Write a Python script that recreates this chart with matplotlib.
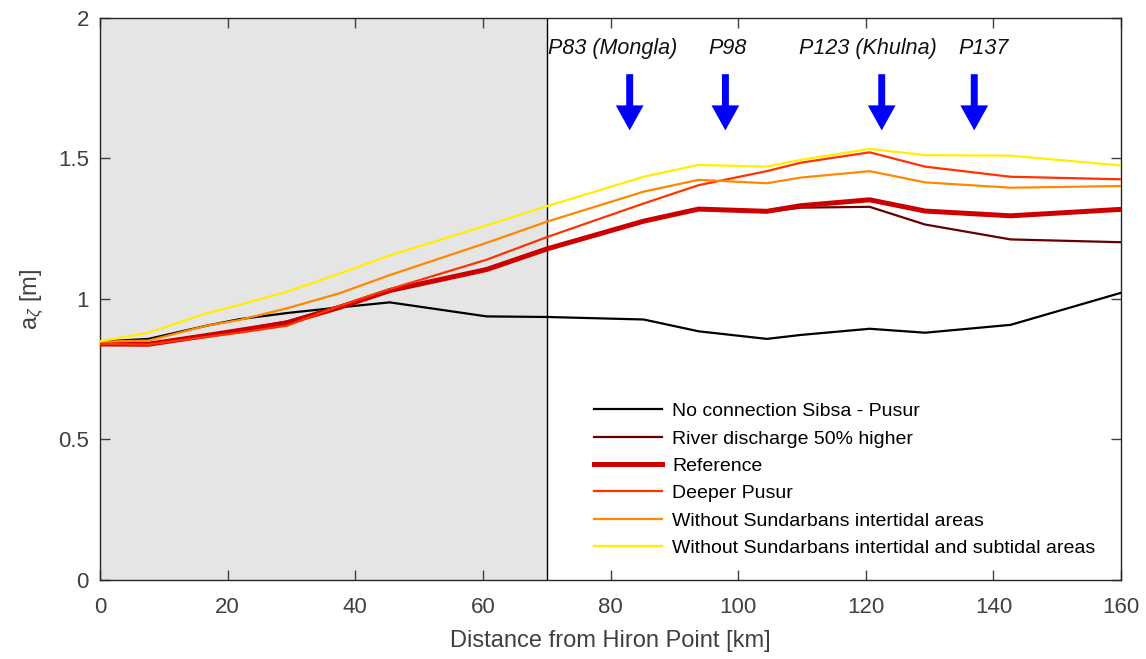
import numpy as np
import matplotlib
matplotlib.use('Agg')
import matplotlib.pyplot as plt
from matplotlib.ticker import FuncFormatter

plt.rcParams['font.family'] = ['Liberation Sans', 'DejaVu Sans']
plt.rcParams['mathtext.fontset'] = 'custom'
plt.rcParams['mathtext.rm'] = 'Liberation Sans'
plt.rcParams['mathtext.it'] = 'Liberation Sans:italic'

# distance from Hiron Point [km]
dist = [0, 7.6, 16.7, 21.8, 29.3, 37.5, 45.4, 60.6, 70, 85.2, 93.8,
        104.5, 109.8, 120.6, 129.3, 142.7, 160]

no_connection = [0.848, 0.858, 0.905, 0.928, 0.950, 0.970, 0.988, 0.938, 0.936,
                 0.927, 0.885, 0.858, 0.872, 0.894, 0.880, 0.908, 1.022]
discharge_50 = [0.845, 0.842, 0.872, 0.890, 0.920, 0.975, 1.030, 1.108, 1.180,
                1.275, 1.318, 1.310, 1.325, 1.328, 1.265, 1.212, 1.202]
reference = [0.840, 0.839, 0.870, 0.888, 0.915, 0.970, 1.030, 1.105, 1.178,
             1.277, 1.320, 1.312, 1.332, 1.353, 1.313, 1.296, 1.319]
deeper_pusur = [0.840, 0.838, 0.865, 0.880, 0.905, 0.975, 1.035, 1.140, 1.220,
                1.340, 1.405, 1.455, 1.485, 1.522, 1.471, 1.435, 1.426]
no_intertidal = [0.848, 0.852, 0.905, 0.925, 0.967, 1.020, 1.085, 1.200, 1.275,
                 1.382, 1.424, 1.412, 1.432, 1.455, 1.415, 1.396, 1.402]
no_inter_subtidal = [0.850, 0.880, 0.949, 0.979, 1.026, 1.090, 1.155, 1.262, 1.330,
                     1.435, 1.477, 1.471, 1.495, 1.534, 1.512, 1.510, 1.475]

series = [
    ('No connection Sibsa - Pusur', no_connection, 'black', 1.6),
    ('River discharge 50% higher', discharge_50, '#660000', 1.6),
    ('Reference', reference, '#cc0000', 3.6),
    ('Deeper Pusur', deeper_pusur, '#ff3300', 1.6),
    ('Without Sundarbans intertidal areas', no_intertidal, '#ff8800', 1.6),
    ('Without Sundarbans intertidal and subtidal areas', no_inter_subtidal, '#ffee00', 1.6),
]

stations = ['P83 (Mongla)', 'P98', 'P123 (Khulna)', 'P137']
station_km = [83, 98, 122.5, 137]
label_km = [80.3, 98.4, 120.4, 138.4]

axcol = '#404040'
fig = plt.figure(figsize=(11.46, 6.59), dpi=100)
ax = fig.add_axes([0.0873, 0.1199, 0.8909, 0.8528])

# shaded seaward part
ax.axvspan(0, 70, color='#e5e5e5', zorder=0, lw=0)
ax.axvline(70, color='black', lw=1.0, zorder=1)

for name, vals, col, lw in series:
    ax.plot(dist, vals, color=col, lw=lw, label=name, zorder=3)

for name, xk, xl in zip(stations, station_km, label_km):
    ax.text(xl, 1.893, name, ha='center', va='center', fontsize=15.5,
            style='italic', color='#111111')
    ax.annotate('', xy=(xk, 1.60), xytext=(xk, 1.80),
                arrowprops=dict(width=5, headwidth=20, headlength=18,
                                color='blue', lw=0))

ax.set_xlim(0, 160)
ax.set_ylim(0, 2)
ax.set_xticks(np.arange(0, 161, 20))
ax.set_yticks([0, 0.5, 1, 1.5, 2])
ax.yaxis.set_major_formatter(FuncFormatter(lambda v, p: '%g' % v))
ax.tick_params(direction='in', top=True, right=True, length=7, width=1,
               colors=axcol, labelsize=16, pad=8)
ax.tick_params(axis='x', pad=12)
for s in ax.spines.values():
    s.set_color('#262626')
    s.set_linewidth(1.0)

ax.set_xlabel('Distance from Hiron Point [km]', fontsize=17, color=axcol, labelpad=9)
ax.set_ylabel(r'a$_{\zeta}$ [m]', fontsize=17, color=axcol, labelpad=8)

ax.legend(loc='lower right', bbox_to_anchor=(0.992, 0.01), frameon=False,
          fontsize=14, handlelength=3.5, labelspacing=0.5, handletextpad=0.5)

fig.savefig('out.png', dpi=100)
